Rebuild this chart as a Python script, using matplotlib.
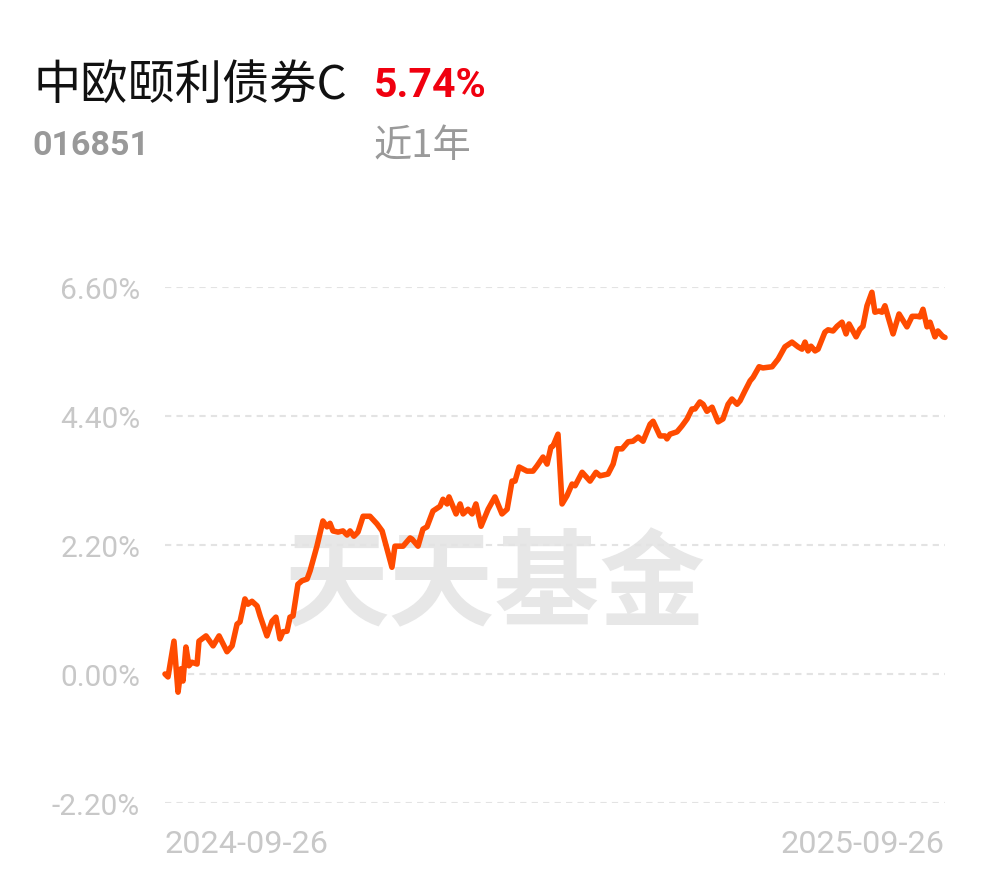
import numpy as np
import pandas as pd
import matplotlib
matplotlib.use("Agg")
import matplotlib.pyplot as plt

# fund info
fund_name = "中欧颐利债券C"
fund_code = "016851"
period_return = "5.74%"
period_label = "近1年"

start_date = "2024-09-26"
end_date = "2025-09-26"

# days after start, cumulative return (%)
days = [0, 1.4, 4.2, 6.1, 7.5, 8.4, 9.8, 11.2, 12.6, 15.0, 15.9, 19.2, 22.5, 25.3,
        29.0, 31.4, 33.7, 35.1, 37.4, 38.8, 40.7, 43.1, 44.5, 47.7, 50.1, 51.9,
        53.8, 55.2, 57.1, 58.5, 59.9, 62.2, 64.1, 66.5, 67.9, 71.1, 73.9, 75.8,
        77.2, 78.6, 81.0, 83.3, 85.2, 86.6, 88.4, 90.3, 92.7, 95.9, 99.2, 101.6,
        106.2, 107.6, 111.4, 114.7, 115.6, 118.4, 120.7, 122.6, 125.4, 128.7,
        130.1, 132.0, 132.9, 136.2, 138.1, 139.5, 141.8, 143.7, 145.5, 147.9,
        151.2, 154.4, 157.7, 160.1, 162.4, 163.8, 165.7, 169.4, 172.2, 174.1,
        176.9, 178.8, 180.6, 181.6, 183.9, 185.8, 188.1, 190.5, 191.9, 195.2,
        198.9, 201.7, 203.6, 207.3, 209.7, 211.5, 213.9, 216.7, 219.0, 221.4,
        223.7, 227.0, 228.4, 231.6, 234.0, 234.9, 236.3, 239.6, 241.9, 244.3,
        246.6, 248.0, 250.3, 251.8, 253.6, 256.0, 258.8, 261.1, 263.5, 265.3,
        267.7, 269.1, 271.4, 273.8, 275.2, 278.0, 279.8, 284.1, 286.9, 290.1,
        293.4, 296.2, 298.1, 299.5, 300.9, 302.3, 304.2, 305.6, 308.8, 310.3,
        312.6, 314.5, 316.8, 318.7, 320.1, 323.4, 325.2, 326.6, 328.5, 330.8,
        332.2, 334.1, 335.5, 336.9, 338.3, 340.7, 343.5, 347.2, 349.6, 351.9,
        353.3, 354.7, 356.6, 358.0, 360.3, 361.7, 364.1, 365]
returns = [0.00, -0.05, 0.56, -0.31, 0.09, -0.12, 0.46, 0.14, 0.20, 0.17, 0.56,
           0.65, 0.48, 0.65, 0.38, 0.48, 0.85, 0.89, 1.28, 1.19, 1.24, 1.16, 0.99,
           0.65, 0.90, 0.97, 0.60, 0.72, 0.73, 0.97, 0.99, 1.53, 1.59, 1.62, 1.76,
           2.18, 2.61, 2.51, 2.57, 2.44, 2.42, 2.44, 2.37, 2.44, 2.35, 2.42, 2.69,
           2.69, 2.56, 2.44, 1.82, 2.18, 2.18, 2.32, 2.30, 2.18, 2.47, 2.51, 2.78,
           2.86, 2.98, 2.90, 3.02, 2.73, 2.90, 2.73, 2.81, 2.73, 2.90, 2.52, 2.81,
           3.02, 2.73, 2.81, 3.29, 3.29, 3.53, 3.46, 3.46, 3.55, 3.70, 3.58, 3.87,
           3.89, 4.09, 2.90, 3.04, 3.24, 3.21, 3.44, 3.29, 3.44, 3.38, 3.41, 3.58,
           3.84, 3.84, 3.96, 3.97, 4.04, 3.97, 4.26, 4.31, 4.06, 4.06, 4.01, 4.09,
           4.13, 4.23, 4.35, 4.52, 4.52, 4.64, 4.60, 4.48, 4.55, 4.30, 4.35, 4.60,
           4.69, 4.60, 4.66, 4.83, 5.00, 5.06, 5.24, 5.22, 5.24, 5.37, 5.58, 5.66,
           5.58, 5.54, 5.66, 5.51, 5.59, 5.51, 5.54, 5.83, 5.87, 5.85, 5.93, 6.00,
           5.80, 5.97, 5.75, 5.88, 5.93, 6.28, 6.51, 6.17, 6.19, 6.17, 6.28, 6.10,
           5.80, 6.14, 5.92, 6.10, 6.10, 6.09, 6.22, 5.92, 6.00, 5.75, 5.85, 5.75,
           5.74]

yticks = [-2.2, 0.0, 2.2, 4.4, 6.6]

t0 = pd.Timestamp(start_date)
dates = t0 + pd.to_timedelta(np.array(days), unit="D")

plt.rcParams['font.family'] = ['Roboto', 'Noto Sans CJK SC', 'DejaVu Sans']

fig = plt.figure(figsize=(9.9, 8.78), dpi=100)
fig.patch.set_facecolor("white")
W, H = 990, 878
ax = fig.add_axes([165 / W, 1 - 804 / H, 780 / W, (804 - 288) / H])

# watermark
ax.text(0.423, 0.42, "天天基金", transform=ax.transAxes, ha="center", va="center",
        fontsize=76, fontweight="bold", color="#e7e7e7",
        family=['Noto Sans CJK SC'], zorder=0)

ax.plot(dates, returns, color="#ff4b00", lw=4.0, solid_joinstyle="round",
        solid_capstyle="round", clip_on=False, zorder=3)

ax.set_xlim(pd.Timestamp(start_date), pd.Timestamp(end_date))
ax.set_ylim(yticks[0], yticks[-1])
ax.set_yticks(yticks)
ax.set_yticklabels([f"{v:.2f}%" for v in yticks])
for sp in ax.spines.values():
    sp.set_visible(False)
ax.grid(axis="y", color="#e3e3e3", lw=1.5, linestyle=(0, (3, 2.5)), zorder=1)
ax.tick_params(axis="y", length=0, pad=18, labelsize=21.5, labelcolor="#c8c8c8")

ax.set_xticks([pd.Timestamp(start_date), pd.Timestamp(end_date)])
ax.set_xticklabels([start_date, end_date])
ax.tick_params(axis="x", length=0, pad=19, labelsize=23.3, labelcolor="#c8c8c8")
xl = ax.get_xticklabels()
xl[0].set_ha("left")
xl[1].set_ha("right")

# header
cjk = ['Noto Sans CJK SC', 'DejaVu Sans']
fig.text(33 / W, 1 - 86 / H, fund_name, fontsize=34, color="#111111",
         va="center", ha="left", family=cjk)
fig.text(374 / W, 1 - 86 / H, period_return, fontsize=29.5, color="#f0000f",
         fontweight="bold", va="center", ha="left", family=['Roboto'])
fig.text(32 / W, 1 - 146 / H, fund_code, fontsize=24.5, color="#999999",
         fontweight="bold", va="center", ha="left", family=['Roboto'])
fig.text(374 / W, 1 - 147 / H, period_label, fontsize=27.5, color="#9a9a9a",
         va="center", ha="left", family=cjk)

fig.savefig("out.png", dpi=100, facecolor="white")
